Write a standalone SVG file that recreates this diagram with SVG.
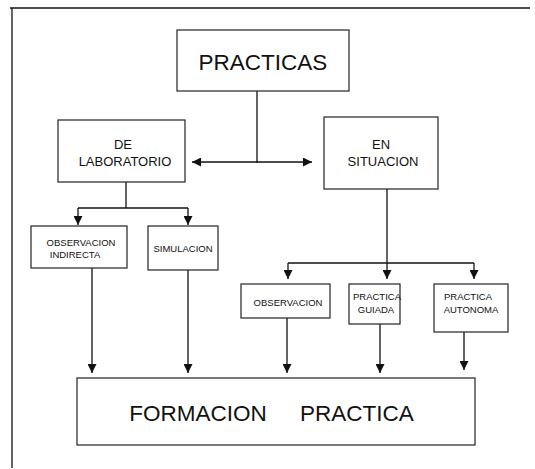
<svg xmlns="http://www.w3.org/2000/svg" width="535" height="469" viewBox="0 0 535 469">
<style>
.box{fill:#fff;stroke:#222;stroke-width:1.2}
.ln{fill:none;stroke:#111;stroke-width:1.3}
.t{font-family:"Liberation Sans",Arial,sans-serif;fill:#111;text-anchor:middle}
.big{font-size:22.5px}
.mid{font-size:13px}
.sm{font-size:9.5px}
</style>
<defs>
<marker id="ah" viewBox="0 0 10 10" refX="10" refY="5" markerWidth="9" markerHeight="9" markerUnits="userSpaceOnUse" orient="auto">
<path d="M0,0 L10,5 L0,10 z" fill="#111"/>
</marker>
</defs>
<g id="frame">
<line class="ln" x1="10" y1="8" x2="530" y2="8" stroke-width="1"/>
<line class="ln" x1="12" y1="8" x2="12" y2="468" stroke-width="1"/>
</g>
<g id="connectors">
<line class="ln" x1="257" y1="91" x2="257" y2="163"/>
<line class="ln" x1="257" y1="162" x2="192" y2="162" marker-end="url(#ah)"/>
<line class="ln" x1="257" y1="162" x2="312" y2="162" marker-end="url(#ah)"/>
<line class="ln" x1="126" y1="182" x2="126" y2="208"/>
<line class="ln" x1="78" y1="208" x2="188" y2="208"/>
<line class="ln" x1="78" y1="208" x2="78" y2="225" marker-end="url(#ah)"/>
<line class="ln" x1="188" y1="208" x2="188" y2="225" marker-end="url(#ah)"/>
<line class="ln" x1="387" y1="189" x2="387" y2="279" marker-end="url(#ah)"/>
<line class="ln" x1="288" y1="263" x2="474" y2="263"/>
<line class="ln" x1="288" y1="263" x2="288" y2="279" marker-end="url(#ah)"/>
<line class="ln" x1="474" y1="263" x2="474" y2="279" marker-end="url(#ah)"/>
<line class="ln" x1="92" y1="268" x2="92" y2="373" marker-end="url(#ah)"/>
<line class="ln" x1="188" y1="270" x2="188" y2="373" marker-end="url(#ah)"/>
<line class="ln" x1="287" y1="318" x2="287" y2="373" marker-end="url(#ah)"/>
<line class="ln" x1="380" y1="324" x2="380" y2="373" marker-end="url(#ah)"/>
<line class="ln" x1="464" y1="332" x2="464" y2="370" marker-end="url(#ah)"/>
</g>
<g id="practicas">
<rect class="box" x="177" y="30" width="172" height="61"/>
<text class="t big" x="263" y="70">PRACTICAS</text>
</g>
<g id="laboratorio">
<rect class="box" x="58" y="120" width="127" height="62"/>
<text class="t mid" x="123" y="149">DE</text>
<text class="t mid" x="125" y="166">LABORATORIO</text>
</g>
<g id="situacion">
<rect class="box" x="324" y="117" width="114" height="72"/>
<text class="t mid" x="381" y="149">EN</text>
<text class="t mid" x="383" y="166">SITUACION</text>
</g>
<g id="obs-indirecta">
<rect class="box" x="31" y="226" width="96" height="42"/>
<text class="t sm" x="81" y="246">OBSERVACION</text>
<text class="t sm" x="75" y="258">INDIRECTA</text>
</g>
<g id="simulacion">
<rect class="box" x="148" y="226" width="70" height="44"/>
<text class="t sm" x="183" y="252">SIMULACION</text>
</g>
<g id="observacion">
<rect class="box" x="241" y="284" width="89" height="34"/>
<text class="t sm" x="288" y="306">OBSERVACION</text>
</g>
<g id="guiada">
<rect class="box" x="349" y="284" width="51" height="40"/>
<text class="t sm" x="377" y="300">PRACTICA</text>
<text class="t sm" x="376" y="313">GUIADA</text>
</g>
<g id="autonoma">
<rect class="box" x="434" y="284" width="74" height="48"/>
<text class="t sm" x="468" y="300">PRACTICA</text>
<text class="t sm" x="471" y="313">AUTONOMA</text>
</g>
<g id="formacion">
<rect class="box" x="77" y="378" width="398" height="67"/>
<text class="t big" x="198" y="421">FORMACION</text>
<text class="t big" x="357" y="421">PRACTICA</text>
</g>
</svg>
